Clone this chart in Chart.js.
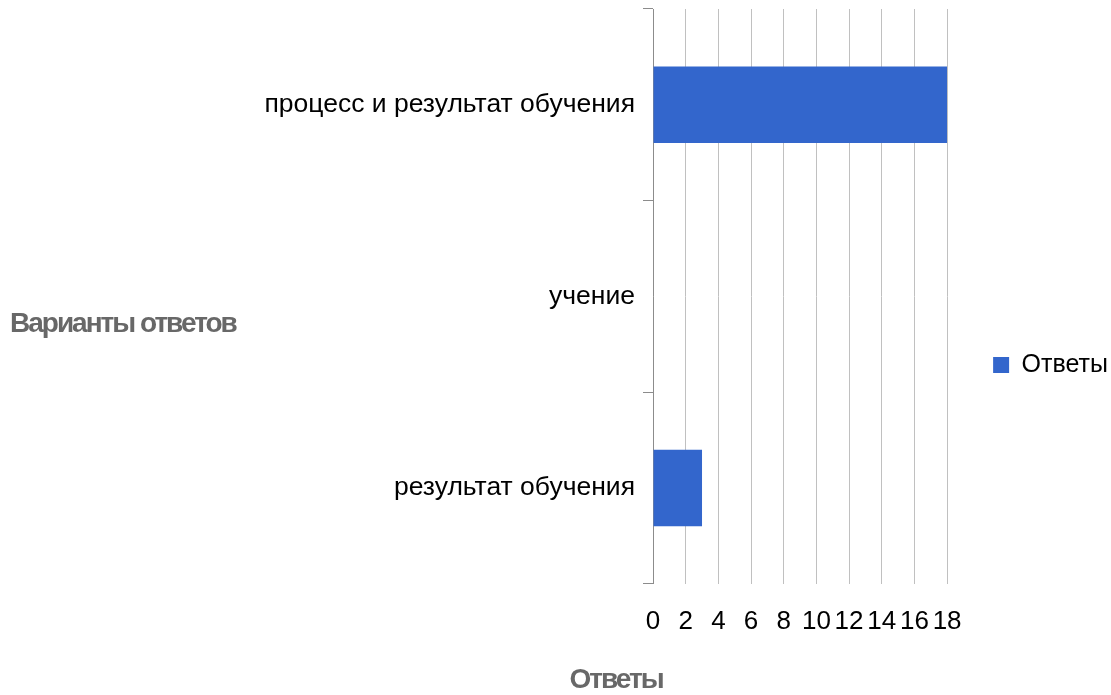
<!DOCTYPE html>
<html>
<head>
<meta charset="utf-8">
<script src="https://cdn.jsdelivr.net/npm/chart.js@4"></script>
<style>
  html, body { margin: 0; padding: 0; background: #fff; }
  #wrap { width: 1111px; height: 695px; }
</style>
</head>
<body>
<div id="wrap"><canvas id="bar-chart"></canvas></div>
<script>
// данные
const categories = ['процесс и результат обучения', 'учение', 'результат обучения'];
const answers = [18, 0, 3];
const seriesName = 'Ответы';
const yTitle = 'Варианты ответов';
const xTitle = 'Ответы';
const xMin = 0, xMax = 18, xStep = 2;

const FONT = '"Liberation Sans", Arial, sans-serif';

// заголовки осей рисуем сами (горизонтально, сжатым жирным шрифтом)
const axisTitles = {
    id: 'axisTitles',
    afterDraw(chart) {
        const ctx = chart.ctx;
        ctx.save();
        ctx.fillStyle = '#686868';
        ctx.font = 'bold 28px ' + FONT;
        ctx.letterSpacing = '-2px';
        ctx.textBaseline = 'middle';
        ctx.textAlign = 'left';
        ctx.fillText(yTitle, 10, 324);
        ctx.textAlign = 'center';
        ctx.fillText(xTitle, 616, 680);
        ctx.restore();
    }
};

const config = {
    type: 'bar',
    data: {
        labels: categories,
        datasets: [{
            label: seriesName,
            data: answers,
            backgroundColor: '#3366cc',
            borderWidth: 0,
            categoryPercentage: 1,
            barPercentage: 0.4
        }]
    },
    options: {
        indexAxis: 'y',
        responsive: true,
        maintainAspectRatio: false,
        animation: false,
        layout: { padding: { top: 9, bottom: 36, left: 0, right: -7 } },
        plugins: {
            legend: {
                position: 'right',
                // пустой заголовок только чтобы опустить легенду
                title: { display: true, text: ' ', font: { size: 10 }, padding: { top: 0, bottom: 50 } },
                labels: {
                    boxWidth: 16,
                    boxHeight: 16,
                    padding: 46,
                    color: '#000',
                    font: { family: FONT, size: 25 }
                }
            },
            tooltip: { enabled: false }
        },
        scales: {
            x: {
                min: xMin,
                max: xMax,
                ticks: {
                    stepSize: xStep,
                    autoSkip: false,
                    maxRotation: 0,
                    minRotation: 0,
                    color: '#000',
                    padding: 22,
                    font: { family: FONT, size: 26 }
                },
                grid: { color: '#c0c0c0', drawTicks: false },
                border: { display: false }
            },
            y: {
                afterFit(scale) {
                    scale.width = 653;
                    scale.paddingTop = 0;
                    scale.paddingBottom = 0;
                },
                ticks: {
                    color: '#000',
                    padding: 8,
                    font: { family: FONT, size: 26.5 }
                },
                grid: {
                    offset: true,
                    drawOnChartArea: false,
                    drawTicks: true,
                    tickLength: 10,
                    color: '#8c8c8c'
                },
                border: { display: true, color: '#8c8c8c' }
            }
        }
    },
    plugins: [axisTitles]
};

new Chart(document.getElementById('bar-chart'), config);
</script>
</body>
</html>
